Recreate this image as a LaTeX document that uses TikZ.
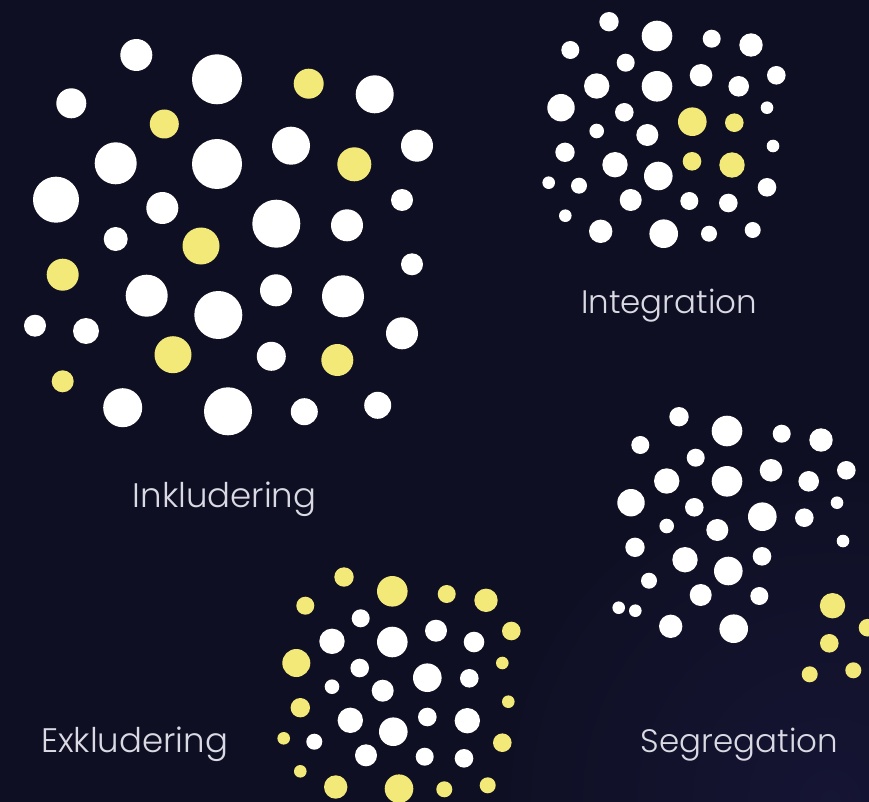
\documentclass[tikz,border=0pt]{standalone}
\usepackage{fontspec}
\setmainfont{Poppins}[UprightFont=* Light]
\usetikzlibrary{shadings}
\definecolor{bgbase}{RGB}{15,15,36}
\definecolor{bglight}{RGB}{21,21,52}
\definecolor{dotyellow}{RGB}{243,233,120}
\definecolor{labelgray}{RGB}{218,218,228}
\tikzset{
  wdot/.style={fill=white},
  ydot/.style={fill=dotyellow},
  lbl/.style={text=labelgray, anchor=base, inner sep=0pt, font=\fontsize{34}{40}\selectfont},
  lblsmall/.style={lbl, font=\fontsize{32.5}{38}\selectfont}
}
\begin{document}
\begin{tikzpicture}[x=1pt,y=-1pt]
\useasboundingbox (0,0) rectangle (869,802);
\fill[bgbase] (0,0) rectangle (869,802);
\begin{scope}
\clip (0,0) rectangle (869,802);
\shade[inner color=bglight, outer color=bgbase] (830,800) circle[radius=330];
\end{scope}
% Inkludering
\foreach \x/\y/\r in {136.3/55/16, 217/79.3/25, 374.7/94.3/19, 71.3/103.3/15,
  115.7/163.3/21, 217/164/25, 291/145.7/19, 417/145.7/16, 56/199.7/23,
  162.3/208/16, 276.3/223.7/24, 347/225.3/16, 402/200/11, 115.7/239/12,
  412/264.3/11, 146.7/295.7/21, 218.3/315/24, 276/290.3/16, 343/296.3/21,
  35/325.7/11, 86/331/13, 402/333.3/16, 271.3/356.3/14.5, 122.7/407.7/19.5,
  228/411.3/24, 304.3/411.7/13.5, 377.7/405.3/13.5}
  \fill[wdot] (\x,\y) circle[radius=\r];
\foreach \x/\y/\r in {308.7/83.7/15, 164.3/124/14.5, 354.3/164.3/17, 201/246/18.5,
  62.7/274.7/16, 173/354.7/18.5, 337.3/360/16, 62.7/381.3/11}
  \fill[ydot] (\x,\y) circle[radius=\r];
% Integration
\foreach \x/\y/\r in {609/21.7/9.7, 657/36/15.3, 711.7/38.7/9, 751/45/11.7,
  570.3/50/9, 625.7/62.7/9, 701/75.3/11.3, 776.3/75.3/9.3, 596.7/86/12.7,
  657/86.3/15.3, 738.7/86.3/10.3, 561/107.7/13.7, 624.3/112.3/9.3, 767/107.7/6.3,
  596.7/131/7.3, 647.3/135/11, 773/146/6.3, 565/152.3/9.7, 615/164.7/12.7,
  658.3/176/14.3, 548.7/182.7/6.3, 579/185.7/8, 767/187.3/9.3, 630.7/200/11,
  689.3/201/9, 728.3/203/9.3, 565.3/215.7/6.3, 600.7/231.3/11.7, 663.7/233.7/14.3,
  709/233.7/8, 752.7/230/8}
  \fill[wdot] (\x,\y) circle[radius=\r];
\foreach \x/\y/\r in {692.3/121.7/14.3, 734.3/122.7/9.3, 692/161.3/9.3, 732/165/12.7}
  \fill[ydot] (\x,\y) circle[radius=\r];
% Segregation
\foreach \x/\y/\r in {679/416.7/9.7, 727/431/15.3, 781.7/433.7/9, 821/440/11.7,
  640.3/445/9, 695.7/457.7/9, 771/470.3/11.3, 846.3/470.3/9.3, 666.7/481/12.7,
  727/481.3/15.3, 808.7/481.3/10.3, 631/502.7/13.7, 694.3/507.3/9.3, 837/502.7/6.3,
  762.3/516.7/14.3, 804.3/517.7/9.3, 666.7/526/7.3, 717.3/530/11, 843/541/6.3,
  635/547.3/9.7, 762/556.3/9.3, 685/559.7/12.7, 728.3/571/14.3, 649/580.7/8,
  700.7/595/11, 759.3/596/9, 618.7/607.7/6.3, 635.3/610.7/6.3, 670.7/626.3/11.7,
  733.7/628.7/14.3}
  \fill[wdot] (\x,\y) circle[radius=\r];
\foreach \x/\y/\r in {832.5/605.7/12.7, 867.5/627.7/8.8, 829.3/643.3/9.3,
  809.7/674.3/8, 853.3/670.3/8}
  \fill[ydot] (\x,\y) circle[radius=\r];
% Exkludering
\foreach \x/\y/\r in {360.7/618.3/9, 332/641.3/12.7, 392.3/642/15.3, 436/630.7/11,
  474/642/10.3, 359.7/668/9.3, 427.3/677.7/14.3, 469.3/678.3/9.3, 332/686.7/7.3,
  382.7/690.7/11, 350.3/720.3/12.7, 393.3/731.7/14.3, 427.3/717/9.3, 467.3/720.7/12.7,
  314.3/741.7/8, 366/755.3/11, 424.7/756.7/9, 464/758.3/9.3}
  \fill[wdot] (\x,\y) circle[radius=\r];
\foreach \x/\y/\r in {344/577/9.7, 392.3/591.3/15.3, 446.7/594/9, 486/600.3/11.7,
  305.3/605.7/9, 511.3/631/9.3, 296.3/663/14, 502.3/663/6.3, 300.3/707.7/9.7,
  508.3/701.7/6.3, 283.7/738.3/6.3, 502.3/742.7/9.3, 300.3/771.3/6.3,
  335.7/787/11.7, 399/788.7/14.3, 444.3/789.3/8, 487.7/785.3/8}
  \fill[ydot] (\x,\y) circle[radius=\r];
% labels
\node[lbl] (inkl) at (224.5,507) {Inkludering};
\node[lblsmall] (integ) at (669,313.7) {Integration};
\node[lbl] (exkl) at (134.6,752) {Exkludering};
\node[lblsmall] (segr) at (739.5,752) {Segregation};
\end{tikzpicture}
\end{document}
